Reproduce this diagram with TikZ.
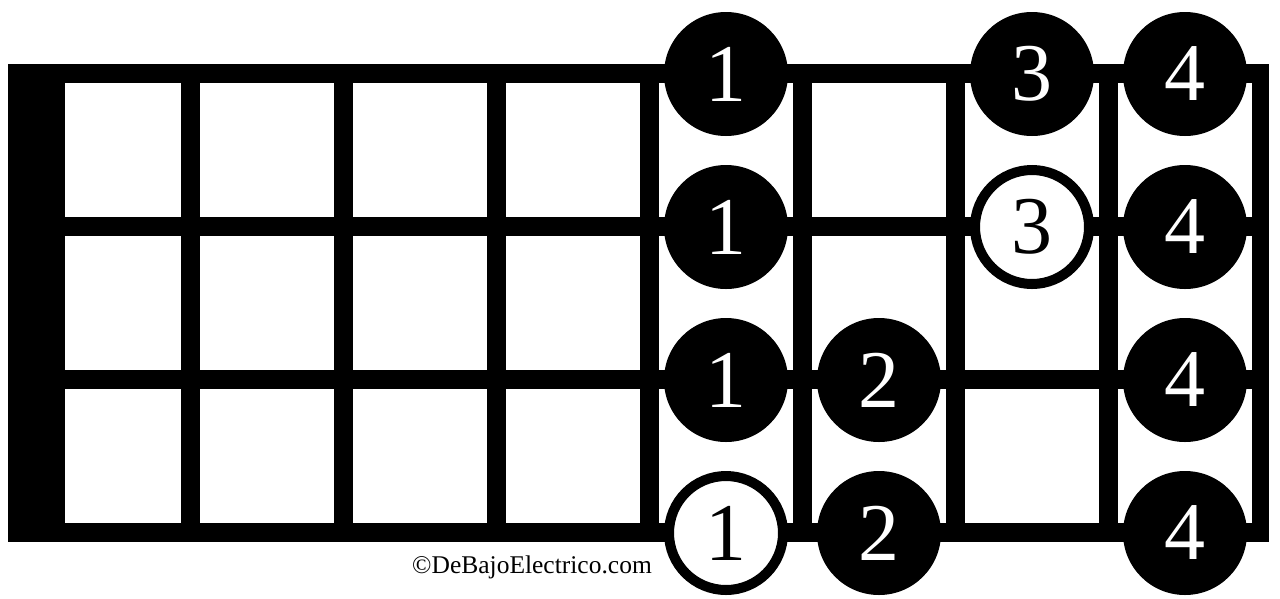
\documentclass[tikz,border=0pt]{standalone}
\usepackage{fontspec}
\setmainfont{Liberation Serif}
\usetikzlibrary{positioning}
\tikzset{fdot/.style={circle,fill=black,text=white,inner sep=0pt,minimum size=124pt,font=\fontsize{82}{82}\selectfont},
	 odot/.style={circle,draw=black,line width=10pt,fill=white,text=black,inner sep=0pt,minimum size=114pt,font=\fontsize{82}{82}\selectfont},
	 cell/.style={fill=white},
	 node distance = 153pt and 153pt, on grid
	 }

\begin{document}
\begin{tikzpicture}[x=1pt,y=-1pt] % bass neck, frets 5 to 8
	\useasboundingbox[fill=white] (0,0) rectangle (1280,598);
	\fill (8,64) rectangle (1269,542);
	\foreach \r in {0,1,2} {
		\fill[cell] (65,83+153*\r) rectangle (181,217+153*\r);
		\foreach \c in {0,...,6} \fill[cell] (200+153*\c,83+153*\r) rectangle (334+153*\c,217+153*\r);
	}
	\node[fdot] (a1) at (726,74) {1};
	\node[fdot] (a2) [below=of a1] {1};
	\node[fdot] (a3) [below=of a2] {1};
	\node[odot] (a4) [below=of a3] {1};
	\node[fdot] (b3) [right=of a3] {2};
	\node[fdot] (b4) [right=of a4] {2};
	\node[fdot] (c1) [right=306pt of a1] {3};
	\node[odot] (c2) [right=306pt of a2] {3};
	\node[fdot] (d1) [right=of c1] {4};
	\node[fdot] (d2) [right=of c2] {4};
	\node[fdot] (d3) [right=459pt of a3] {4};
	\node[fdot] (d4) [right=459pt of a4] {4};
	\node[anchor=base,font=\fontsize{25.5}{25.5}\selectfont] (copy) at (532,573) {©DeBajoElectrico.com};
\end{tikzpicture}
\end{document}
